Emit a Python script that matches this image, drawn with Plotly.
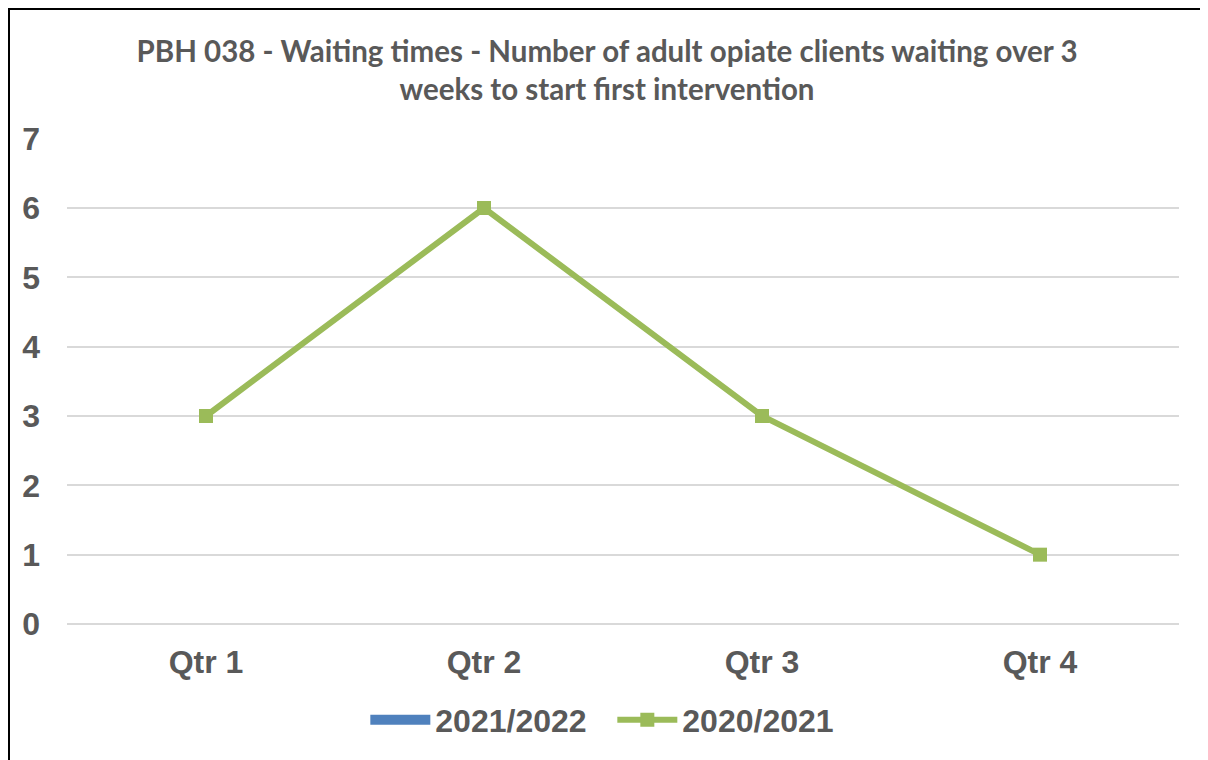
import plotly.graph_objects as go

# chart data
quarters = ["Qtr 1", "Qtr 2", "Qtr 3", "Qtr 4"]
values_2020_21 = [3, 6, 3, 1]
values_2021_22 = [None, None, None, None]  # legend only, no values plotted
y_ticks = [0, 1, 2, 3, 4, 5, 6, 7]

# page has an 8px body margin, so the figure starts at (8, 8) in the window
W, H = 1198, 752
ML, MR, MT, MB = 59, 27, 130, 136
GREY = "#595959"
TICK_FONT = dict(family="Liberation Sans, Arial", size=32, color=GREY, weight="bold")


def px_to_paper_x(px):
    return (px - ML) / (W - ML - MR)


def px_to_paper_y(py):
    return 1 - (py - MT) / (H - MT - MB)


fig = go.Figure()

# 2021/2022 has no data yet, only shows in legend
fig.add_trace(go.Scatter(
    x=quarters, y=values_2021_22,
    mode="lines", name="2021/2022",
    line=dict(color="#4F81BD", width=14),
))

fig.add_trace(go.Scatter(
    x=quarters, y=values_2020_21,
    mode="lines+markers", name="2020/2021",
    line=dict(color="#9BBB59", width=6),
    marker=dict(symbol="square", size=14, color="#9BBB59"),
))

fig.update_layout(
    width=W, height=H,
    margin=dict(l=ML, r=MR, t=MT, b=MB, autoexpand=False),
    paper_bgcolor="white",
    plot_bgcolor="white",
    title=dict(
        text="PBH 038 - Waiting times - Number of adult opiate clients waiting over 3<br>weeks to start first intervention",
        x=0.5, xanchor="center",
        y=1 - 53.5 / H, yanchor="middle",
        font=dict(family="Lato, Open Sans", size=29.5, color=GREY, weight="bold"),
    ),
    xaxis=dict(
        type="category", range=[-0.5, 3.5],
        showgrid=False, zeroline=False, showline=False,
        tickfont=TICK_FONT, ticks="",
        ticklabelstandoff=16,
    ),
    yaxis=dict(
        range=[0, 7.01], tickvals=y_ticks,
        showgrid=True, gridcolor="#D9D9D9", gridwidth=2,
        zeroline=True, zerolinecolor="#D9D9D9", zerolinewidth=2,
        showline=False,
        tickfont=TICK_FONT, ticks="",
        ticklabelstandoff=26,
    ),
    legend=dict(
        orientation="h",
        x=0.4904, xanchor="center",
        y=px_to_paper_y(712), yanchor="middle",
        font=dict(family="Liberation Sans, Arial", size=32, color=GREY, weight="bold"),
        itemwidth=60,
        entrywidth=172,
        traceorder="normal",
    ),
    showlegend=True,
    shapes=[
        dict(type="line", xref="paper", yref="paper",
             x0=px_to_paper_x(1), x1=px_to_paper_x(1),
             y0=px_to_paper_y(0), y1=px_to_paper_y(H),
             line=dict(color="black", width=2)),
        dict(type="line", xref="paper", yref="paper",
             x0=px_to_paper_x(0), x1=px_to_paper_x(W),
             y0=px_to_paper_y(1), y1=px_to_paper_y(1),
             line=dict(color="black", width=2)),
        dict(type="line", xref="paper", yref="paper",
             x0=px_to_paper_x(W - 1), x1=px_to_paper_x(W - 1),
             y0=px_to_paper_y(0), y1=px_to_paper_y(H),
             line=dict(color="#BFBFBF", width=2)),
    ],
)

fig.write_html("out.html")
